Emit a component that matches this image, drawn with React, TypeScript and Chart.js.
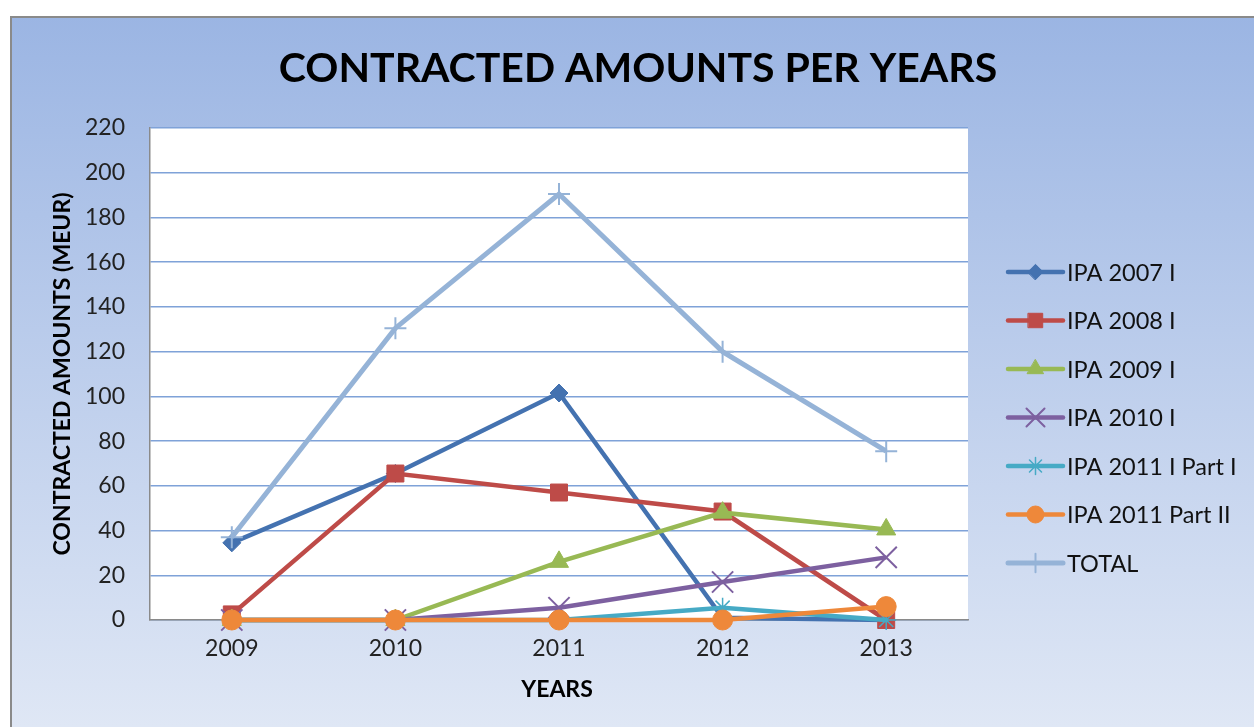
import React, { useEffect, useRef } from "react";
import { Chart, registerables } from "chart.js";
import { drawPoint } from "chart.js/helpers";

Chart.register(...registerables);

const years = ["2009", "2010", "2011", "2012", "2013"];
const ipa2007 = [34.5, 65.5, 101.5, 1, 0];
const ipa2008 = [2.5, 65.5, 57, 48.5, 0];
const ipa2009 = [0, 0, 26, 48, 40.5];
const ipa2010 = [0, 0, 5.5, 17, 28];
const ipa2011p1 = [0, 0, 0, 5.5, 0];
const ipa2011p2 = [0, 0, 0, 0, 6];
const total = [37, 130.5, 190.5, 120, 75.5];

const seriesNames = [
  "IPA 2007 I",
  "IPA 2008 I",
  "IPA 2009 I",
  "IPA 2010 I",
  "IPA 2011 I Part I",
  "IPA 2011 Part II",
  "TOTAL",
];
const seriesColors = ["#4472B0", "#BE4B48", "#98B954", "#7D60A0", "#46AAC5", "#EE883A", "#95B3D7"];
const seriesStyles = ["rectRot", "rect", "triangle", "crossRot", "star", "circle", "cross"];
const seriesRadii = [9, 12, 11, 15, 10, 10, 11];
const seriesPointBorder = [1, 1, 1, 2, 1.5, 1, 2];

const chartTitle = "CONTRACTED AMOUNTS PER YEARS";
const yTitle = "CONTRACTED AMOUNTS (MEUR)";
const xTitle = "YEARS";
const yMin = 0;
const yMax = 220;
const yStep = 20;

const FONT = "Lato, 'Open Sans', sans-serif";

const decorPlugin = {
  id: "decor",
  beforeDraw(chart: any) {
    const { ctx, width, height, chartArea } = chart;
    ctx.save();
    ctx.fillStyle = "#ffffff";
    ctx.fillRect(0, 0, width, height);
    const g = ctx.createLinearGradient(0, 16, 0, height);
    g.addColorStop(0, "#9BB5E3");
    g.addColorStop(1, "#DFE7F5");
    ctx.fillStyle = g;
    ctx.fillRect(10, 16, width, height);
    ctx.strokeStyle = "#8A8A8A";
    ctx.lineWidth = 2;
    ctx.beginPath();
    ctx.moveTo(11, height + 5);
    ctx.lineTo(11, 17);
    ctx.lineTo(width + 5, 17);
    ctx.stroke();
    ctx.fillStyle = "#ffffff";
    ctx.fillRect(chartArea.left, chartArea.top, chartArea.right - chartArea.left, chartArea.bottom - chartArea.top);
    ctx.restore();
  },
  afterDraw(chart: any) {
    const { ctx } = chart;
    ctx.save();
    ctx.fillStyle = "#000000";
    ctx.textAlign = "center";
    ctx.textBaseline = "alphabetic";
    ctx.font = `bold 41px ${FONT}`;
    ctx.fillText(chartTitle, 638, 82);

    ctx.font = `bold 23px ${FONT}`;
    ctx.fillText(xTitle, 557, 697);

    ctx.translate(70, 374);
    ctx.rotate(-Math.PI / 2);
    ctx.fillText(yTitle, 0, 0);
    ctx.restore();

    // legend
    ctx.save();
    const x0 = 1008;
    const x1 = 1063;
    const startY = 272;
    const gap = 48.5;
    chart.data.datasets.forEach((ds: any, i: number) => {
      const y = startY + i * gap;
      ctx.strokeStyle = ds.borderColor;
      ctx.lineWidth = ds.borderWidth;
      ctx.lineCap = "round";
      ctx.beginPath();
      ctx.moveTo(x0, y);
      ctx.lineTo(x1, y);
      ctx.stroke();
      ctx.fillStyle = ds.pointBackgroundColor;
      ctx.strokeStyle = ds.pointBorderColor;
      ctx.lineWidth = ds.pointBorderWidth;
      drawPoint(ctx, { pointStyle: ds.pointStyle, radius: ds.pointRadius * 0.85, rotation: 0, borderWidth: ds.pointBorderWidth }, (x0 + x1) / 2, y);
      ctx.fillStyle = "#111111";
      ctx.font = `23.5px ${FONT}`;
      ctx.textAlign = "left";
      ctx.textBaseline = "middle";
      ctx.fillText(ds.label, 1067, y + 1);
    });
    ctx.restore();
  },
};

export default function App() {
  const ref = useRef<HTMLCanvasElement | null>(null);

  useEffect(() => {
    if (!ref.current) return;
    const all = [ipa2007, ipa2008, ipa2009, ipa2010, ipa2011p1, ipa2011p2, total];
    const datasets = all.map((data, i) => ({
      label: seriesNames[i],
      data,
      order: all.length - i,
      borderColor: seriesColors[i],
      backgroundColor: seriesColors[i],
      borderWidth: i === 6 ? 5 : 4.5,
      pointStyle: seriesStyles[i],
      pointRadius: seriesRadii[i],
      pointBackgroundColor: seriesColors[i],
      pointBorderColor: seriesColors[i],
      pointBorderWidth: seriesPointBorder[i],
      tension: 0,
      clip: false as any,
    }));
    const chart = new Chart(ref.current, {
      type: "line",
      data: { labels: years, datasets },
      options: {
        animation: false,
        responsive: true,
        maintainAspectRatio: false,
        layout: { padding: { top: 128, right: 286, left: 0, bottom: 0 } },
        plugins: { legend: { display: false }, title: { display: false }, tooltip: { enabled: false } },
        scales: {
          x: {
            type: "category",
            offset: true,
            grid: { display: false, drawTicks: false },
            border: { display: true, color: "#8A8A8A", width: 1.5 },
            ticks: { color: "#222222", font: { family: FONT, size: 23 }, padding: 15 },
            afterFit(scale: any) {
              scale.height = 107;
            },
          },
          y: {
            min: yMin,
            max: yMax,
            grid: { color: "#7FA2D8", lineWidth: 1.5, drawTicks: false },
            border: { display: true, color: "#8A8A8A", width: 1.5 },
            ticks: { stepSize: yStep, color: "#222222", font: { family: FONT, size: 23 }, padding: 25 },
            afterFit(scale: any) {
              scale.width = 150;
            },
          },
        },
      },
      plugins: [decorPlugin],
    });
    return () => chart.destroy();
  }, []);

  return (
    <div style={{ position: "fixed", left: 0, top: 0, width: 1254, height: 727 }}>
      <canvas ref={ref} />
    </div>
  );
}
